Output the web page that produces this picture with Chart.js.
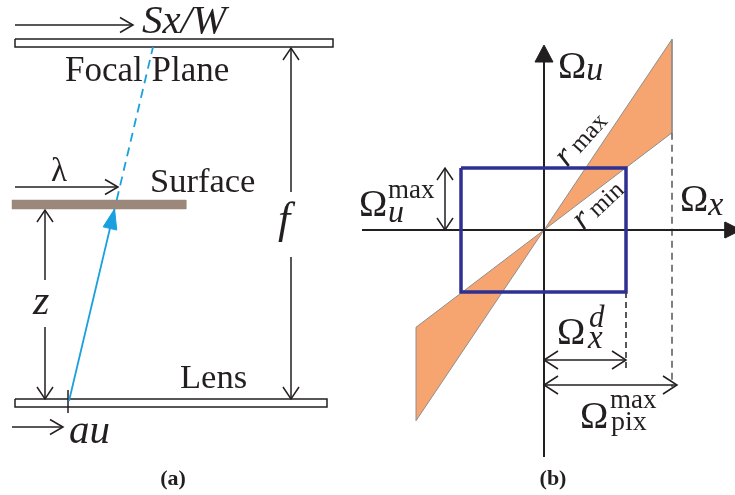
<!DOCTYPE html>
<html>
<head>
<meta charset="utf-8">
<script src="https://cdn.jsdelivr.net/npm/chart.js@4.4.1/dist/chart.umd.min.js"></script>
<style>
  html, body { margin: 0; padding: 0; background: #fff; }
  #wrap { width: 735px; height: 495px; }
</style>
</head>
<body>
<div id="wrap"><canvas id="c" width="735" height="495"></canvas></div>
<script>
// ---- Panel (a): imaging geometry (scene units, y grows downward) ----
const focalPlaneX = [15, 333];
const focalPlaneY = [39, 47];
const surfaceX = [12, 186];
const surfaceY = [200, 209];
const lensX = [15, 327];
const lensY = [399, 407];
const rayStart = [69, 401];      // ray leaves the lens at au
const rayEnd = [153, 47];        // ray reaches the focal plane at Sx/W
const apertureTickX = 68;
const zArrowX = 45;
const fArrowX = 291;
const sxArrow = [15, 133, 25];   // x0, x1, y
const lambdaArrow = [15, 118, 187];
const auArrow = [12, 63, 427];

// ---- Panel (b): frequency plane (units measured from the origin) ----
const origin = [544, 230];
const omegaPixMax = 128;
const omegaXd = 82;
const omegaUMax = 62;
const slopeRMax = 1.49;
const slopeRMin = 0.76;
const axisXRange = [362, 741];
const axisYRange = [457, 45];
const omegaXdArrowY = 360;
const omegaPixArrowY = 385;
const omegaUMaxArrowX = 445;
const dashBottomD = 368;
const dashBottomPix = 387;

const INK = '#231f20';
const BLUE_RAY = '#1aa0df';
const FRAME_BLUE = '#2e3192';
const ORANGE = '#f6a570';
const SURFACE_BROWN = '#9c877b';

const datasets = [];
function add(points, opts) {
  datasets.push(Object.assign({
    data: points.map(p => ({ x: p[0], y: p[1] })),
    showLine: true,
    pointRadius: 0,
    pointHoverRadius: 0,
    borderColor: INK,
    borderWidth: 1.5,
    backgroundColor: 'transparent',
    fill: false,
    tension: 0,
    borderCapStyle: 'butt',
    borderJoinStyle: 'miter'
  }, opts || {}));
}
function rect(x0, x1, y0, y1, opts) {
  add([[x0, y0], [x1, y0], [x1, y1], [x0, y1], [x0, y0]], Object.assign({ fill: 'shape' }, opts));
}
// open (chevron) arrow head at tip, pointing along (dx, dy)
function chevron(tip, dx, dy, len, half, opts) {
  const n = Math.hypot(dx, dy), ux = dx / n, uy = dy / n;
  const bx = tip[0] - ux * len, by = tip[1] - uy * len;
  add([[bx - uy * half, by + ux * half], tip, [bx + uy * half, by - ux * half]],
      Object.assign({ borderJoinStyle: 'miter' }, opts));
}
// filled triangular arrow head
function solidHead(tip, dx, dy, len, half, color) {
  const n = Math.hypot(dx, dy), ux = dx / n, uy = dy / n;
  const bx = tip[0] - ux * len, by = tip[1] - uy * len;
  add([[bx - uy * half, by + ux * half], tip, [bx + uy * half, by - ux * half], [bx - uy * half, by + ux * half]],
      { fill: 'shape', backgroundColor: color, borderColor: color, borderWidth: 1 });
}
function hArrow(x0, x1, y, both, len, half) {
  add([[x0, y], [x1, y]]);
  chevron([x1, y], 1, 0, len, half);
  if (both) chevron([x0, y], -1, 0, len, half);
}
function vArrowGap(x, yTop, yBot, gapTop, gapBot) {
  add([[x, yTop], [x, gapTop]]);
  add([[x, gapBot], [x, yBot]]);
  chevron([x, yTop], 0, -1, 12, 8);
  chevron([x, yBot], 0, 1, 12, 8);
}

// ---------- panel (a) ----------
// ray geometry: where it crosses the reflecting surface
const tSurf = (rayStart[1] - surfaceY[1]) / (rayStart[1] - rayEnd[1]);
const hitX = rayStart[0] + (rayEnd[0] - rayStart[0]) * tSurf;
const tTop = (rayStart[1] - surfaceY[0]) / (rayStart[1] - rayEnd[1]);
const hitTopX = rayStart[0] + (rayEnd[0] - rayStart[0]) * tTop;

rect(focalPlaneX[0], focalPlaneX[1], focalPlaneY[0], focalPlaneY[1], { backgroundColor: '#fff', borderWidth: 1.5 });
rect(lensX[0], lensX[1], lensY[0], lensY[1], { backgroundColor: '#fff', borderWidth: 1.5 });
rect(surfaceX[0], surfaceX[1], surfaceY[0], surfaceY[1], { backgroundColor: SURFACE_BROWN, borderColor: SURFACE_BROWN, borderWidth: 0.5 });

hArrow(sxArrow[0], sxArrow[1], sxArrow[2], false, 13, 7.5);
hArrow(lambdaArrow[0], lambdaArrow[1], lambdaArrow[2], false, 13, 7.5);
hArrow(auArrow[0], auArrow[1], auArrow[2], false, 13, 7.5);

vArrowGap(zArrowX, surfaceY[1] + 1, lensY[0], 280, 327);
vArrowGap(fArrowX, focalPlaneY[1] + 1, lensY[0], 192, 257);

add([[apertureTickX, 390], [apertureTickX, 413]]);

// the ray: solid below the surface, dashed above it
add([rayStart, [hitX, surfaceY[1]]], { borderColor: BLUE_RAY, borderWidth: 1.8 });
add([[hitTopX, surfaceY[0]], [rayEnd[0], focalPlaneY[1]]], { borderColor: BLUE_RAY, borderWidth: 1.8, borderDash: [9, 6] });
solidHead([hitX, surfaceY[1]], rayEnd[0] - rayStart[0], rayEnd[1] - rayStart[1], 20, 7, BLUE_RAY);

// ---------- panel (b) ----------
const ox = origin[0], oy = origin[1];
// admissible band between the r_min and r_max lines
add([[ox, oy], [ox + omegaPixMax, oy - slopeRMax * omegaPixMax], [ox + omegaPixMax, oy - slopeRMin * omegaPixMax], [ox, oy]],
    { fill: 'shape', backgroundColor: ORANGE, borderColor: '#8e8e8e', borderWidth: 1 });
add([[ox, oy], [ox - omegaPixMax, oy + slopeRMax * omegaPixMax], [ox - omegaPixMax, oy + slopeRMin * omegaPixMax], [ox, oy]],
    { fill: 'shape', backgroundColor: ORANGE, borderColor: '#8e8e8e', borderWidth: 1 });

// pixel limit and display limit guides
add([[ox + omegaPixMax, oy - slopeRMin * omegaPixMax], [ox + omegaPixMax, dashBottomPix]],
    { borderColor: '#555', borderWidth: 1.5, borderDash: [7, 5] });
add([[ox + omegaXd, oy + omegaUMax], [ox + omegaXd, dashBottomD]],
    { borderColor: INK, borderWidth: 1.5, borderDash: [6, 4] });

// axes
add([[axisXRange[0], oy], [axisXRange[1] - 14, oy]], { borderWidth: 2 });
add([[ox, axisYRange[0]], [ox, axisYRange[1] + 14]], { borderWidth: 2 });
solidHead([axisXRange[1], oy], 1, 0, 16, 8, INK);
solidHead([ox, axisYRange[1]], 0, -1, 17, 9, INK);

// display bandwidth box
rect(ox - omegaXd - 1, ox + omegaXd, oy - omegaUMax, oy + omegaUMax,
     { backgroundColor: 'transparent', fill: false, borderColor: FRAME_BLUE, borderWidth: 3.5 });

// dimension arrows
add([[omegaUMaxArrowX, oy - omegaUMax], [omegaUMaxArrowX, oy]]);
chevron([omegaUMaxArrowX, oy - omegaUMax], 0, -1, 12, 8);
chevron([omegaUMaxArrowX, oy], 0, 1, 12, 8);
hArrow(ox, ox + omegaXd, omegaXdArrowY, true, 14, 9);
hArrow(ox, ox + omegaPixMax + 5, omegaPixArrowY, true, 14, 9);

// later entries are drawn on top
datasets.forEach((d, i) => { d.order = -i; });

// ---------- text ----------
const SERIF = '"Liberation Serif", "Times New Roman", serif';
// each run: [text, font, dx, dy]; dx === null continues after the previous run
const labels = [
  { x: 142, y: 33, runs: [['Sx/W', 'italic 41px', 0, 0]] },
  { x: 65, y: 81, runs: [['Focal Plane', '35px', 0, 0]] },
  { x: 51, y: 181, runs: [['λ', '33px', 0, 0]] },
  { x: 150, y: 192, runs: [['Surface', '34.5px', 0, 0]] },
  { x: 33, y: 314, runs: [['z', 'italic 42px', 0, 0]] },
  { x: 278, y: 233, runs: [['f', 'italic 44px', 0, 0]] },
  { x: 180, y: 388, runs: [['Lens', '34.5px', 0, 0]] },
  { x: 69, y: 443, runs: [['au', 'italic 41px', 0, 0]] },
  { x: 173, y: 485, align: 'center', runs: [['(a)', 'bold 22px', 0, 0]] },

  { x: 558, y: 78, runs: [['Ω', '38px', 0, 0], ['u', 'italic 34px', null, 2]] },
  { x: 680, y: 211, runs: [['Ω', '38px', 0, 0], ['x', 'italic 34px', null, 4]] },
  { x: 359, y: 216, runs: [['Ω', '38px', 0, 0], ['max', '27px', 29, -18], ['u', 'italic 32px', 29, 6]] },
  { x: 557, y: 344, runs: [['Ω', '38px', 0, 0], ['d', 'italic 31px', 32, -17], ['x', 'italic 33px', 31, 4]] },
  { x: 580, y: 428, runs: [['Ω', '38px', 0, 0], ['max', '27px', 30, -20], ['pix', '28px', 31, 2]] },

  { x: 567, y: 168, rotate: -48, runs: [['r', 'italic 34px', 0, 0], ['max', '25px', 19, 0]] },
  { x: 583, y: 231, rotate: -43, runs: [['r', 'italic 34px', 0, 0], ['min', '25px', 19, 0]] },

  { x: 553, y: 485, align: 'center', runs: [['(b)', 'bold 22px', 0, 0]] }
];

const textPlugin = {
  id: 'diagramText',
  afterDatasetsDraw(chart) {
    const ctx = chart.ctx, xs = chart.scales.x, ys = chart.scales.y;
    ctx.save();
    ctx.fillStyle = INK;
    ctx.textBaseline = 'alphabetic';
    labels.forEach(l => {
      const px = xs.getPixelForValue(l.x), py = ys.getPixelForValue(l.y);
      ctx.save();
      ctx.translate(px, py);
      if (l.rotate) ctx.rotate(l.rotate * Math.PI / 180);
      let total = 0;
      if (l.align === 'center') {
        l.runs.forEach(r => { ctx.font = r[1] + ' ' + SERIF; total += ctx.measureText(r[0]).width; });
      }
      let cursor = -total / 2;
      l.runs.forEach(r => {
        ctx.font = r[1] + ' ' + SERIF;
        const x = (r[2] === null) ? cursor : r[2] - total / 2;
        ctx.textAlign = 'left';
        ctx.fillText(r[0], x, r[3]);
        cursor = x + ctx.measureText(r[0]).width;
      });
      ctx.restore();
    });
    ctx.restore();
  }
};

new Chart(document.getElementById('c'), {
  type: 'scatter',
  data: { datasets },
  options: {
    responsive: false,
    animation: false,
    devicePixelRatio: 1,
    layout: { padding: 0 },
    events: [],
    plugins: { legend: { display: false }, tooltip: { enabled: false }, title: { display: false } },
    scales: {
      x: { type: 'linear', min: 0, max: 735, display: false },
      y: { type: 'linear', min: 0, max: 495, reverse: true, display: false }
    }
  },
  plugins: [textPlugin]
});
</script>
</body>
</html>
